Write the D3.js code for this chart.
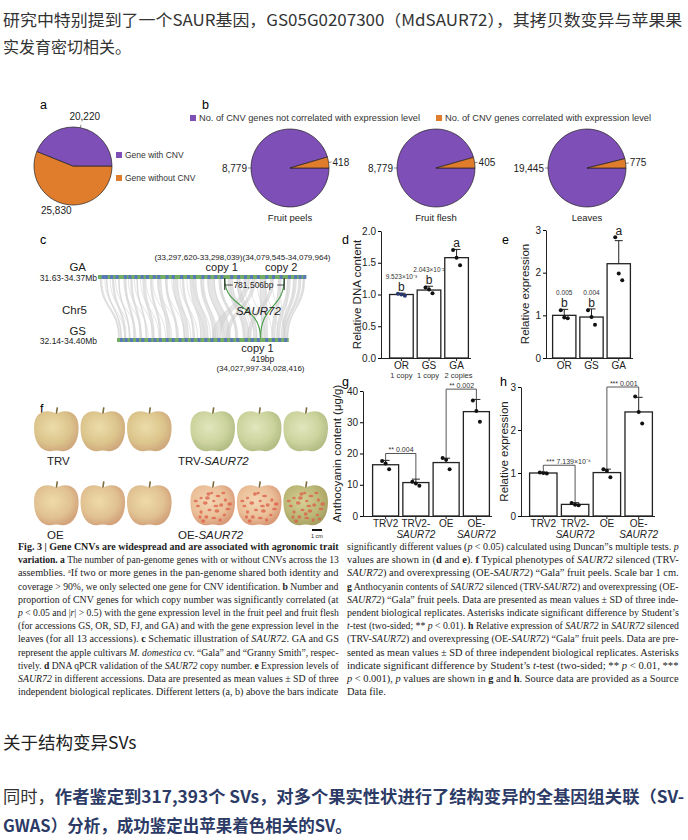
<!DOCTYPE html>
<html>
<head>
<meta charset="utf-8">
<script src="https://cdn.jsdelivr.net/npm/d3@7"></script>
<style>
  body { margin: 0; background: #fff; }
  svg text { white-space: pre; }
</style>
</head>
<body>
<svg id="fig" width="688" height="840" font-family="Liberation Sans, Arial, sans-serif"></svg>
<script>
// ---------- data ----------
// a
var cnvLabels = ["Gene without CNV", "Gene with CNV"];
var cnvCounts = [25830, 20220];
// b
var tissues = ["Fruit peels", "Fruit flesh", "Leaves"];
var notCorrelated = [8779, 8779, 19445];
var correlated = [418, 405, 775];
var corrLegend = ["No. of CNV genes not correlated with expression level", "No. of CNV genes correlated with expression level"];
// c  (Mb)
var gaRange = [31.63, 34.37];
var gsRange = [32.14, 34.40];
var gaCopies = [33.2978, 34.0798];
var gsCopy = 34.0282;
var gaGenes = [31.68, 31.72, 31.79, 31.86, 31.97, 32.03, 32.11, 32.19, 32.26, 32.35, 32.41, 32.52, 32.60, 32.71, 32.80, 32.88, 32.99, 33.07, 33.16, 33.24, 33.37, 33.46, 33.55, 33.63, 33.72, 33.83, 33.92, 34.02, 34.13, 34.21, 34.27, 34.33];
var gsGenes = [32.18, 32.24, 32.31, 32.39, 32.46, 32.55, 32.62, 32.69, 32.78, 32.86, 32.95, 33.03, 33.11, 33.20, 33.29, 33.37, 33.46, 33.55, 33.63, 33.71, 33.82, 33.90, 33.98, 34.09, 34.18, 34.26, 34.34];
var synteny = [
  [31.66, 31.67, 32.16, 32.17], [31.74, 31.75, 32.19, 32.20], [31.82, 31.84, 32.24, 32.26],
  [31.90, 31.91, 32.30, 32.31], [31.98, 32.00, 32.36, 32.38], [32.06, 32.08, 32.44, 32.46],
  [32.14, 32.15, 32.52, 32.53], [32.22, 32.25, 32.60, 32.63], [32.32, 32.34, 32.70, 32.72],
  [32.42, 32.46, 32.80, 32.84], [32.52, 32.54, 32.92, 32.94], [32.62, 32.68, 33.02, 33.08],
  [32.74, 32.76, 33.14, 33.16], [32.84, 32.92, 33.24, 33.34], [32.98, 33.02, 33.40, 33.44],
  [33.08, 33.16, 33.52, 33.62], [33.22, 33.25, 33.70, 33.73], [33.34, 33.40, 33.80, 33.88],
  [33.46, 33.50, 33.94, 33.98], [33.56, 33.62, 33.40, 33.50], [33.66, 33.70, 33.58, 33.62],
  [33.76, 33.84, 34.04, 34.12], [33.90, 33.94, 33.86, 33.90], [34.00, 34.04, 34.18, 34.22],
  [34.12, 34.16, 34.24, 34.28], [34.20, 34.24, 34.30, 34.33], [34.28, 34.30, 34.35, 34.37],
  [34.33, 34.35, 34.38, 34.39]
];
// d
var accessions = ["OR", "GS", "GA"];
var copyLabels = ["1 copy", "1 copy", "2 copies"];
var dnaMean = [1.00, 1.07, 1.58];
var dnaSd = [0.02, 0.06, 0.13];
var dnaReps = [[1.01, 1.00, 0.98], [1.11, 1.08, 1.02], [1.70, 1.58, 1.46]];
var dnaLetters = ["b", "b", "a"];
var dnaP = ["9.523×10⁻³", "2.043×10⁻²", ""];
// e
var exprMean = [1.00, 0.96, 2.21];
var exprSd = [0.14, 0.19, 0.54];
var exprReps = [[1.12, 0.95, 0.93], [1.12, 0.96, 0.78], [2.83, 1.98, 1.82]];
var exprLetters = ["b", "b", "a"];
var exprP = ["0.005", "0.004", ""];
// f
var appleGroups = ["TRV", "TRV-SAUR72", "OE", "OE-SAUR72"];
var appleSpotCounts = [[0, 0, 0], [0, 0, 0], [0, 0, 0], [24, 22, 26]];
var spotOffsets = [[-0.55, -0.35], [-0.2, -0.55], [0.25, -0.45], [0.6, -0.25], [-0.7, 0.05], [-0.35, -0.1],
  [0.05, -0.2], [0.4, 0.0], [0.72, 0.2], [-0.55, 0.35], [-0.15, 0.25], [0.2, 0.3], [0.55, 0.5],
  [-0.3, 0.6], [0.05, 0.65], [0.35, 0.75], [-0.8, -0.2], [0.8, -0.05], [-0.05, -0.6], [-0.45, 0.8],
  [0.15, 0.05], [-0.6, 0.6], [0.5, -0.6], [-0.25, -0.35], [0.65, 0.7], [0.0, 0.45]];
// g
var treatments = ["TRV2", "TRV2-|SAUR72", "OE", "OE-|SAUR72"];
var anthoMean = [16.4, 10.7, 17.1, 33.4];
var anthoSd = [1.4, 1.1, 1.4, 3.9];
var anthoReps = [[17.6, 16.8, 15.0], [11.0, 10.4, 9.7], [18.6, 18.0, 15.0], [37.0, 33.6, 30.2]];
var anthoTests = [[0, 1, 20.0, "**", "0.004"], [2, 3, 40.6, "**", "0.002"]];
// h
var saurMean = [1.00, 0.27, 1.01, 2.42];
var saurSd = [0.02, 0.04, 0.08, 0.34];
var saurReps = [[1.01, 1.00, 0.99], [0.30, 0.26, 0.25], [1.09, 1.05, 0.90], [2.78, 2.42, 2.15]];
var saurTests = [[0, 1, 1.18, "***", "7.139×10⁻⁴"], [2, 3, 3.0, "***", "0.001"]];

// ---------- text ----------
var topLines = ["研究中特别提到了一个SAUR基因，GS05G0207300（MdSAUR72），其拷贝数变异与苹果果", "实发育密切相关。"];
var heading = "关于结构变异SVs";
var paraLines = ["同时，«作者鉴定到317,393个 SVs，对多个果实性状进行了结构变异的全基因组关联（SV-»", "«GWAS）分析，成功鉴定出苹果着色相关的SV。»"];
var capLeft = [
  "«Fig. 3 | Gene CNVs are widespread and are associated with agronomic trait»",
  "«variation. a» The number of pan-genome genes with or without CNVs across the 13",
  "assemblies. ᵃIf two or more genes in the pan-genome shared both identity and",
  "coverage > 90%, we only selected one gene for CNV identification. «b» Number and",
  "proportion of CNV genes for which copy number was significantly correlated (at",
  "‹p› < 0.05 and |‹r›| > 0.5) with the gene expression level in the fruit peel and fruit flesh",
  "(for accessions GS, OR, SD, FJ, and GA) and with the gene expression level in the",
  "leaves (for all 13 accessions). «c» Schematic illustration of ‹SAUR72›. GA and GS",
  "represent the apple cultivars ‹M. domestica› cv. “Gala” and “Granny Smith”, respec-",
  "tively. «d» DNA qPCR validation of the ‹SAUR72› copy number. «e» Expression levels of",
  "‹SAUR72› in different accessions. Data are presented as mean values ± SD of three",
  "independent biological replicates. Different letters (a, b) above the bars indicate"
];
var capRight = [
  "significantly different values (‹p› < 0.05) calculated using Duncan”s multiple tests. ‹p›",
  "values are shown in («d» and «e»). «f» Typical phenotypes of ‹SAUR72› silenced (TRV-",
  "‹SAUR72›) and overexpressing (OE-‹SAUR72›) “Gala” fruit peels. Scale bar 1 cm.",
  "«g» Anthocyanin contents of ‹SAUR72› silenced (TRV-‹SAUR72›) and overexpressing (OE-",
  "‹SAUR72›) “Gala” fruit peels. Data are presented as mean values ± SD of three inde-",
  "pendent biological replicates. Asterisks indicate significant difference by Student’s",
  "‹t›-test (two-sided; ** ‹p› < 0.01). «h» Relative expression of ‹SAUR72› in ‹SAUR72› silenced",
  "(TRV-‹SAUR72›) and overexpressing (OE-‹SAUR72›) “Gala” fruit peels. Data are pre-",
  "sented as mean values ± SD of three independent biological replicates. Asterisks",
  "indicate significant difference by Student’s ‹t›-test (two-sided; ** ‹p› < 0.01, ***",
  "‹p› < 0.001), ‹p› values are shown in «g» and «h». Source data are provided as a Source",
  "Data file."
];

// ---------- styles ----------
var purple = "#7e4fb6", orange = "#e07d2c";
var cjk = "Noto Sans CJK SC, sans-serif";
var serif = "Liberation Serif, DejaVu Serif, serif";
var appleTones = [
  ["#ecdcaa", "#dcc58c", "#cfa97d"],
  ["#e2e6bd", "#ccd39d", "#b3bd84"],
  ["#efdaa8", "#e1c292", "#d3a37c"],
  ["#f3d6b4", "#eabf98", "#d99a78"]
];
var lastTone = ["#d6cf95", "#bcb877", "#a7a062"];

var svg = d3.select("#fig");

function segs(str) {
  return str.split(/(«[^»]*»|‹[^›]*›)/).filter(function(s) { return s.length; }).map(function(s) {
    if (s[0] === "«") return { t: s.slice(1, -1), b: true };
    if (s[0] === "‹") return { t: s.slice(1, -1), i: true };
    return { t: s };
  });
}

function rich(x, y, str, o) {
  var t = svg.append("text").attr("font-size", o.size).attr("font-family", o.family).attr("fill", o.fill || "#222");
  segs(str).forEach(function(s) {
    var ts = t.append("tspan").text(s.t);
    if (s.b) { ts.attr("font-weight", "bold"); if (o.boldFill) ts.attr("fill", o.boldFill); }
    if (s.i) ts.attr("font-style", "italic");
  });
  var k = o.k || 1;
  if (o.width) k = o.width / t.node().getComputedTextLength();
  t.attr("transform", "translate(" + x + "," + y + ") scale(" + k + ",1)");
  return k;
}

// ---------- Chinese text ----------
rich(3, 26, topLines[0], { size: 16, family: cjk, fill: "#333", width: 680 });
rich(3, 53, topLines[1], { size: 16, family: cjk, fill: "#333" });
rich(3, 749, heading, { size: 17.5, family: cjk, fill: "#222" });
rich(3, 803, paraLines[0], { size: 16.5, family: cjk, fill: "#333", boldFill: "#2c3a66", width: 682 });
rich(3, 832, paraLines[1], { size: 16.5, family: cjk, fill: "#333", boldFill: "#2c3a66" });

// ---------- caption ----------
var kR = 1;
capLeft.forEach(function(l, i) {
  rich(18, 550 + i * 13.2, l, { size: 10, family: serif, fill: "#222", width: 321 });
});
capRight.forEach(function(l, i) {
  if (i < capRight.length - 1) kR = rich(347, 550 + i * 13.2, l, { size: 10, family: serif, fill: "#222", width: 332 });
  else rich(347, 550 + i * 13.2, l, { size: 10, family: serif, fill: "#222", k: kR });
});

// ---------- panel letters ----------
[["a", 40, 109], ["b", 202, 109], ["c", 40, 244], ["d", 342, 244], ["e", 502, 244], ["f", 40, 413], ["g", 342, 386], ["h", 500, 386]]
  .forEach(function(p) { svg.append("text").attr("x", p[1]).attr("y", p[2]).attr("font-size", 12.5).text(p[0]); });

// ---------- a ----------
var pie = d3.pie().sort(null).startAngle(Math.PI / 2).endAngle(Math.PI / 2 + 2 * Math.PI);
var R = 39;
var arc = d3.arc().innerRadius(0).outerRadius(R);
var gA = svg.append("g").attr("transform", "translate(73,166)");
var aSlices = pie(cnvCounts);
gA.selectAll("path").data(aSlices).join("path").attr("d", arc)
  .attr("fill", function(d, i) { return i === 0 ? orange : purple; })
  .attr("stroke", "#222").attr("stroke-width", 0.7);
var labArc = d3.arc().innerRadius(R + 7).outerRadius(R + 7);
var tickArc0 = d3.arc().innerRadius(R).outerRadius(R), tickArc1 = d3.arc().innerRadius(R + 3).outerRadius(R + 3);
aSlices.forEach(function(d, i) {
  var c = labArc.centroid(d);
  var top = i === 1;
  if (top) gA.append("line").attr("x1", tickArc0.centroid(d)[0]).attr("y1", tickArc0.centroid(d)[1])
    .attr("x2", tickArc1.centroid(d)[0]).attr("y2", tickArc1.centroid(d)[1]).attr("stroke", "#333").attr("stroke-width", 0.6);
  gA.append("text").attr("x", c[0] + (top ? 3 : -8)).attr("y", top ? c[1] - 1 : c[1] + 3)
    .attr("text-anchor", "middle").attr("font-size", 10).attr("fill", "#222")
    .text(d3.format(",")(d.data));
});
var legA = svg.append("g");
[1, 0].forEach(function(idx, j) {
  legA.append("rect").attr("x", 116).attr("y", 152 + j * 23).attr("width", 6).attr("height", 6).attr("fill", idx === 1 ? purple : orange);
  legA.append("text").attr("x", 125).attr("y", 158 + j * 23).attr("font-size", 8.5).attr("fill", "#333").text(cnvLabels[idx]);
});

// ---------- b ----------
var bCenters = [290, 436, 587];
var legB = svg.append("g");
[[190, purple, corrLegend[0], 221], [436, orange, corrLegend[1], 206]].forEach(function(l) {
  legB.append("rect").attr("x", l[0]).attr("y", 115).attr("width", 6).attr("height", 6).attr("fill", l[1]);
  legB.append("text").attr("x", l[0] + 9).attr("y", 121).attr("font-size", 9).attr("fill", "#333").text(l[2])
    .attr("textLength", l[3]).attr("lengthAdjust", "spacingAndGlyphs");
});
tissues.forEach(function(ts, i) {
  var g = svg.append("g").attr("transform", "translate(" + bCenters[i] + ",168)");
  var sl = pie([notCorrelated[i], correlated[i]]);
  g.selectAll("path").data(sl).join("path").attr("d", arc)
    .attr("fill", function(d, j) { return j === 0 ? purple : orange; })
    .attr("stroke", "#222").attr("stroke-width", 0.7);
  g.append("line").attr("x1", -R - 3).attr("x2", -R).attr("y1", 0).attr("y2", 0).attr("stroke", "#333").attr("stroke-width", 0.6);
  g.append("text").attr("x", -R - 4).attr("y", 3.5).attr("text-anchor", "end").attr("font-size", 10).attr("fill", "#222").text(d3.format(",")(notCorrelated[i]));
  var p0 = tickArc0.centroid(sl[1]), p1 = tickArc1.centroid(sl[1]);
  g.append("line").attr("x1", p0[0]).attr("y1", p0[1]).attr("x2", p1[0]).attr("y2", p1[1]).attr("stroke", "#333").attr("stroke-width", 0.6);
  g.append("text").attr("x", p1[0] + 1).attr("y", p1[1] + 3.5).attr("font-size", 10).attr("fill", "#222").text(d3.format(",")(correlated[i]));
  g.append("text").attr("x", 0).attr("y", 53).attr("text-anchor", "middle").attr("font-size", 9.5).attr("fill", "#222").text(ts);
});

// ---------- c ----------
var pxPerMb = 76;
var xGA = d3.scaleLinear().domain(gaRange).range([98, 98 + (gaRange[1] - gaRange[0]) * pxPerMb]);
var xGS = d3.scaleLinear().domain(gsRange).range([117, 117 + (gsRange[1] - gsRange[0]) * pxPerMb]);
var yGA = 277, yGS = 340;
var gC = svg.append("g");
gC.selectAll("path.syn").data(synteny).join("path").attr("class", "syn")
  .attr("d", function(s) {
    var a0 = xGA(s[0]), a1 = xGA(s[1]), b0 = xGS(s[2]), b1 = xGS(s[3]);
    var t = yGA + 2, b = yGS - 2, m = (t + b) / 2;
    return "M" + a0 + "," + t + "C" + a0 + "," + m + " " + b0 + "," + m + " " + b0 + "," + b +
      "L" + b1 + "," + b + "C" + b1 + "," + m + " " + a1 + "," + m + " " + a1 + "," + t + "Z";
  })
  .attr("fill", "#cfcfcf").attr("fill-opacity", 0.55).attr("stroke", "#c4c4c4").attr("stroke-width", 0.4);
gC.selectAll("path.thin").data(gaGenes).join("path").attr("class", "thin")
  .attr("d", function(g, i) {
    var a = xGA(g), b = xGS(gsGenes[Math.min(i, gsGenes.length - 1)]);
    var t = yGA + 2, bt = yGS - 2, m = (t + bt) / 2;
    return "M" + a + "," + t + "C" + a + "," + m + " " + b + "," + m + " " + b + "," + bt;
  })
  .attr("fill", "none").attr("stroke", "#d4d4d4").attr("stroke-width", 0.6);
[[xGA, yGA, gaRange, gaGenes], [xGS, yGS, gsRange, gsGenes]].forEach(function(tr) {
  gC.append("rect").attr("x", tr[0](tr[2][0])).attr("y", tr[1] - 2).attr("width", tr[0](tr[2][1]) - tr[0](tr[2][0])).attr("height", 4).attr("fill", "#72ad63");
  gC.selectAll(null).data(tr[3]).join("rect").attr("x", function(d) { return tr[0](d); }).attr("y", tr[1] - 2)
    .attr("width", 3).attr("height", 4).attr("fill", "#5a78b8");
});
gaCopies.forEach(function(c) {
  var a = xGA(c), b = xGS(gsCopy);
  gC.append("path").attr("d", "M" + a + "," + (yGA + 2) + "C" + a + "," + (yGA + 32) + " " + b + "," + (yGS - 36) + " " + b + "," + (yGS - 2))
    .attr("fill", "none").attr("stroke", "#4f9f4f").attr("stroke-width", 1.2);
});
var c1 = xGA(gaCopies[0]), c2 = xGA(gaCopies[1]);
gC.append("line").attr("x1", c1).attr("x2", c1).attr("y1", yGA + 1).attr("y2", yGA + 13).attr("stroke", "#222").attr("stroke-width", 1);
gC.append("line").attr("x1", c2).attr("x2", c2).attr("y1", yGA + 1).attr("y2", yGA + 13).attr("stroke", "#222").attr("stroke-width", 1);
gC.append("line").attr("x1", c1).attr("x2", c1 + 8).attr("y1", yGA + 8).attr("y2", yGA + 8).attr("stroke", "#222").attr("stroke-width", 0.8);
gC.append("line").attr("x1", c2 - 7).attr("x2", c2).attr("y1", yGA + 8).attr("y2", yGA + 8).attr("stroke", "#222").attr("stroke-width", 0.8);
gC.append("text").attr("x", (c1 + c2) / 2 - 1).attr("y", yGA + 11).attr("text-anchor", "middle").attr("font-size", 8.5).attr("fill", "#222")
  .text("781,506bp");
var ctext = [
  [(c1 + c2) / 2 - 12, 260, "(33,297,620-33,298,039)(34,079,545-34,079,964)", 8, "middle", "normal"],
  [c1 - 3, 271, "copy 1", 11, "middle", "normal"],
  [c2 - 3, 271, "copy 2", 11, "middle", "normal"],
  [(c1 + c2) / 2 + 4, 315, "SAUR72", 11.5, "middle", "italic"],
  [xGS(gsCopy) - 3, 352, "copy 1", 11, "middle", "normal"],
  [xGS(gsCopy) + 2, 362, "419bp", 8.5, "middle", "normal"],
  [xGS(gsCopy), 371, "(34,027,997-34,028,416)", 8, "middle", "normal"],
  [86, 271, "GA", 11.5, "end", "normal"],
  [97, 281, d3.format(".2f")(gaRange[0]) + "-" + d3.format(".2f")(gaRange[1]) + "Mb", 8.5, "end", "normal"],
  [87, 314, "Chr5", 11.5, "end", "normal"],
  [86, 335, "GS", 11.5, "end", "normal"],
  [97, 344, d3.format(".2f")(gsRange[0]) + "-" + d3.format(".2f")(gsRange[1]) + "Mb", 8.5, "end", "normal"]
];
ctext.forEach(function(t) {
  gC.append("text").attr("x", t[0]).attr("y", t[1]).attr("text-anchor", t[4]).attr("font-size", t[3])
    .attr("font-style", t[5]).attr("fill", "#222").text(t[2]);
});

// ---------- bar panels ----------
function barPanel(cfg) {
  var g = svg.append("g");
  var x = d3.scaleBand().domain(cfg.cats).range(cfg.xr).paddingInner(0.1).paddingOuter(0);
  var y = d3.scaleLinear().domain(cfg.dom).range(cfg.yr);
  var ax = g.append("g").attr("transform", "translate(" + cfg.axisX + ",0)")
    .call(d3.axisLeft(y).tickValues(cfg.ticks).tickFormat(cfg.fmt).tickSize(3).tickSizeOuter(0).tickPadding(2));
  ax.attr("font-family", null);
  ax.selectAll("text").attr("font-size", 10).attr("fill", "#222");
  ax.select(".domain").attr("stroke", "#222");
  g.append("line").attr("x1", cfg.axisX).attr("x2", cfg.xr[1] + 2).attr("y1", y(0) + 0.5).attr("y2", y(0) + 0.5).attr("stroke", "#222");
  cfg.cats.forEach(function(c) {
    var cx = x(c) + x.bandwidth() / 2;
    g.append("line").attr("x1", cx).attr("x2", cx).attr("y1", y(0)).attr("y2", y(0) + 3).attr("stroke", "#222");
    c.split("|").forEach(function(p, k) {
      g.append("text").attr("x", cx).attr("y", y(0) + 11 + k * 11).attr("text-anchor", "middle").attr("font-size", 10)
        .attr("font-style", k === 1 ? "italic" : "normal").attr("fill", "#222").text(p);
    });
  });
  g.selectAll("rect.bar").data(cfg.mean).join("rect").attr("class", "bar")
    .attr("x", function(d, i) { return x(cfg.cats[i]) + 0.6; })
    .attr("y", function(d) { return y(d); })
    .attr("width", x.bandwidth() - 1.2)
    .attr("height", function(d) { return y(0) - y(d); })
    .attr("fill", "#fff").attr("stroke", "#222").attr("stroke-width", 1.3);
  var dx = [-3.5, 0, 3.5];
  cfg.mean.forEach(function(m, i) {
    var cx = x(cfg.cats[i]) + x.bandwidth() / 2;
    var top = y(m + cfg.sd[i]);
    g.append("line").attr("x1", cx).attr("x2", cx).attr("y1", y(m)).attr("y2", top).attr("stroke", "#222").attr("stroke-width", 1);
    g.append("line").attr("x1", cx - 4).attr("x2", cx + 4).attr("y1", top).attr("y2", top).attr("stroke", "#222").attr("stroke-width", 1);
    cfg.reps[i].forEach(function(r, k) {
      g.append("circle").attr("cx", cx + dx[k]).attr("cy", y(r)).attr("r", 2).attr("fill", cfg.dotFill ? cfg.dotFill[i] : "#111");
    });
    if (cfg.letters) {
      var ly = Math.min(top, y(d3.max(cfg.reps[i]))) - 2;
      g.append("text").attr("x", cx).attr("y", ly).attr("text-anchor", "middle").attr("font-size", 12).attr("fill", "#222").text(cfg.letters[i]);
      if (cfg.pvals[i]) g.append("text").attr("x", cx).attr("y", ly - 12).attr("text-anchor", "middle").attr("font-size", 6.5).attr("fill", "#333").text(cfg.pvals[i]);
    }
    if (cfg.sub) g.append("text").attr("x", cx + (i === 0 ? 0 : (i === 1 ? -1 : 2))).attr("y", y(0) + 20).attr("text-anchor", "middle").attr("font-size", 7.5).attr("fill", "#333").text(cfg.sub[i]);
  });
  if (cfg.tests) cfg.tests.forEach(function(t) {
    var xa = x(cfg.cats[t[0]]) + x.bandwidth() / 2, xb = x(cfg.cats[t[1]]) + x.bandwidth() / 2;
    var ya = y(cfg.mean[t[0]] + cfg.sd[t[0]]), yb = y(cfg.mean[t[1]] + cfg.sd[t[1]]), yt = y(t[2]);
    g.append("path").attr("d", "M" + xa + "," + ya + "V" + yt + "H" + xb + "V" + yb)
      .attr("fill", "none").attr("stroke", "#444").attr("stroke-width", 0.9);
    g.append("text").attr("x", xa + 3).attr("y", yt - 1.5).attr("font-size", 7).attr("fill", "#333").text(t[3] + " " + t[4]);
  });
  g.append("text").attr("transform", "translate(" + cfg.labX + "," + ((cfg.yr[0] + cfg.yr[1]) / 2) + ") rotate(-90)")
    .attr("text-anchor", "middle").attr("font-size", 11.5).attr("fill", "#222").text(cfg.label);
}

barPanel({ cats: accessions, xr: [389, 469], axisX: 381, dom: [0, 2], yr: [358, 231], ticks: [0, 0.5, 1, 1.5, 2],
  fmt: d3.format(".1f"), mean: dnaMean, sd: dnaSd, reps: dnaReps, letters: dnaLetters, pvals: dnaP, sub: copyLabels,
  dotFill: ["#2a3a6e", "#111", "#111"], label: "Relative DNA content", labX: 361 });
barPanel({ cats: accessions, xr: [552, 631], axisX: 546, dom: [0, 3], yr: [358, 230], ticks: [0, 1, 2, 3],
  fmt: d3.format("d"), mean: exprMean, sd: exprSd, reps: exprReps, letters: exprLetters, pvals: exprP,
  label: "Relative expression", labX: 529 });
barPanel({ cats: treatments, xr: [372, 490], axisX: 363, dom: [0, 40], yr: [516, 391], ticks: [0, 10, 20, 30, 40],
  fmt: d3.format("d"), mean: anthoMean, sd: anthoSd, reps: anthoReps, tests: anthoTests,
  label: "Anthocyanin content (μg/g)", labX: 341 });
barPanel({ cats: treatments, xr: [529, 653], axisX: 521, dom: [0, 3], yr: [516, 387], ticks: [0, 1, 2, 3],
  fmt: d3.format("d"), mean: saurMean, sd: saurSd, reps: saurReps, tests: saurTests,
  label: "Relative expression", labX: 508 });

// ---------- f : apples ----------
var defs = svg.append("defs");
function grad(id, tone) {
  var rg = defs.append("radialGradient").attr("id", id).attr("cx", "42%").attr("cy", "40%").attr("r", "62%");
  rg.append("stop").attr("offset", "0%").attr("stop-color", tone[0]);
  rg.append("stop").attr("offset", "65%").attr("stop-color", tone[1]);
  rg.append("stop").attr("offset", "100%").attr("stop-color", tone[2]);
}
appleTones.forEach(function(t, i) { grad("ap" + i, t); });
grad("apLast", lastTone);

var groupX = d3.scaleBand().domain([0, 1]).range([34, 328]).paddingInner(0.12);
var rowY = d3.scalePoint().domain([0, 1]).range([431, 505]);
function applePath(cx, cy, rx, ry) {
  var p = d3.path();
  p.moveTo(cx, cy - 0.82 * ry);
  p.bezierCurveTo(cx + 0.3 * rx, cy - 1.02 * ry, cx + 1.0 * rx, cy - 1.05 * ry, cx + 1.0 * rx, cy - 0.15 * ry);
  p.bezierCurveTo(cx + 1.0 * rx, cy + 0.6 * ry, cx + 0.65 * rx, cy + 1.0 * ry, cx + 0.25 * rx, cy + 0.96 * ry);
  p.bezierCurveTo(cx + 0.1 * rx, cy + 0.92 * ry, cx - 0.1 * rx, cy + 0.92 * ry, cx - 0.25 * rx, cy + 0.96 * ry);
  p.bezierCurveTo(cx - 0.65 * rx, cy + 1.0 * ry, cx - 1.0 * rx, cy + 0.6 * ry, cx - 1.0 * rx, cy - 0.15 * ry);
  p.bezierCurveTo(cx - 1.0 * rx, cy - 1.05 * ry, cx - 0.3 * rx, cy - 1.02 * ry, cx, cy - 0.82 * ry);
  p.closePath();
  return p.toString();
}
var gF = svg.append("g");
appleGroups.forEach(function(name, gi) {
  var row = gi < 2 ? 0 : 1, col = gi % 2;
  var inner = d3.scaleBand().domain([0, 1, 2]).range([groupX(col), groupX(col) + groupX.bandwidth()]).paddingInner(0.04);
  [0, 1, 2].forEach(function(k) {
    var cx = inner(k) + inner.bandwidth() / 2, cy = rowY(row);
    var rx = inner.bandwidth() / 2, ry = 21;
    var fillId = (gi === 3 && k === 2) ? "apLast" : "ap" + gi;
    gF.append("line").attr("x1", cx).attr("y1", cy - 0.8 * ry).attr("x2", cx + 1).attr("y2", cy - 1.12 * ry)
      .attr("stroke", "#7c6b3c").attr("stroke-width", 1.6);
    gF.append("path").attr("d", applePath(cx, cy, rx, ry)).attr("fill", "url(#" + fillId + ")");
    var n = appleSpotCounts[gi][k];
    spotOffsets.slice(0, n).forEach(function(o, s) {
      gF.append("ellipse").attr("cx", cx + o[0] * rx * 0.95).attr("cy", cy + o[1] * ry * 0.95)
        .attr("rx", 1.6 + (s % 3) * 0.4).attr("ry", 1.3 + (s % 2) * 0.4)
        .attr("fill", "#dc5d45").attr("fill-opacity", 0.75);
    });
  });
  var lx = col === 0 ? 47 : 178, ly = row === 0 ? 465 : 539;
  var t = gF.append("text").attr("x", lx).attr("y", ly).attr("font-size", 11.5).attr("fill", "#222");
  var parts = name.split("-");
  t.append("tspan").text(parts[0] + (parts.length > 1 ? "-" : ""));
  if (parts.length > 1) t.append("tspan").attr("font-style", "italic").text(parts[1]);
});
gF.append("line").attr("x1", 312).attr("x2", 322).attr("y1", 530).attr("y2", 530).attr("stroke", "#111").attr("stroke-width", 2);
gF.append("text").attr("x", 317).attr("y", 538).attr("text-anchor", "middle").attr("font-size", 5.5).attr("fill", "#222").text("1 cm");
</script>
</body>
</html>
